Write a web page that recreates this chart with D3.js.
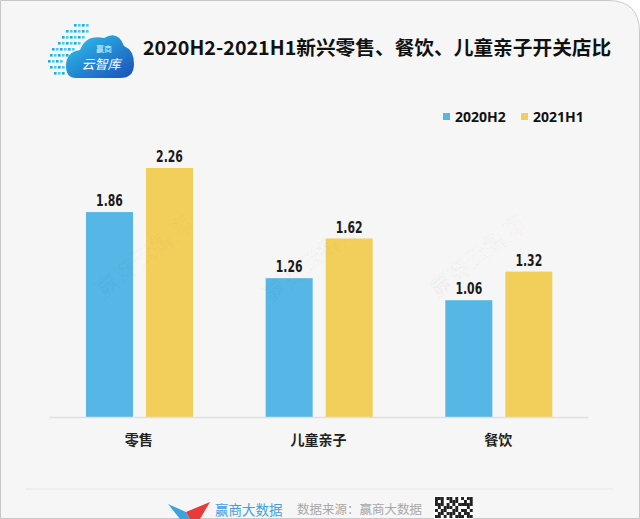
<!DOCTYPE html>
<html>
<head>
<meta charset="utf-8">
<script src="https://cdn.jsdelivr.net/npm/d3@7"></script>
<style>
  html, body { margin: 0; padding: 0; background: #fff; }
  svg { display: block; font-family: "Noto Sans CJK SC", "Noto Sans", sans-serif; }
</style>
</head>
<body>
<div id="chart"></div>
<script>
// data
var categories = ["零售", "儿童亲子", "餐饮"];
var seriesNames = ["2020H2", "2021H1"];
var values2020H2 = [1.86, 1.26, 1.06];
var values2021H1 = [2.26, 1.62, 1.32];
var seriesColors = ["#56b7e6", "#f2cf5b"];
var titleText = "2020H2-2021H1新兴零售、餐饮、儿童亲子开关店比";

var W = 640, H = 519;
var svg = d3.select("#chart").append("svg").attr("width", W).attr("height", H);

// panel background with rounded top-right corner
var r = 32;
svg.append("path")
  .attr("d", "M0.5,518.5 L0.5,0.5 L" + (W - r) + ",0.5 Q" + (W - 0.5) + ",0.5 " + (W - 0.5) + "," + r + " L" + (W - 0.5) + ",518.5 Z")
  .attr("fill", "#f6f6f6")
  .attr("stroke", "#c8c8c8")
  .attr("stroke-width", 1);

// logo (cloud)
var defs = svg.append("defs");
var grad = defs.append("linearGradient").attr("id", "cloudGrad")
  .attr("x1", "0").attr("y1", "0").attr("x2", "1").attr("y2", "1");
grad.append("stop").attr("offset", "0").attr("stop-color", "#2fc6f0");
grad.append("stop").attr("offset", "1").attr("stop-color", "#1a4fb5");

var logo = svg.append("g").attr("class", "logo");
logo.append("path")
  .attr("d", "M66,66 Q66,52 80,50 Q86,34 104,38 Q118,30 124,46 Q134,50 134,64 Q134,78 120,78 L76,78 Q66,78 66,66 Z")
  .attr("fill", "url(#cloudGrad)");
var dotRows = [[74, 24, 4], [66, 30, 6], [62, 36, 6], [58, 42, 6], [52, 48, 6], [50, 54, 5], [48, 60, 4], [50, 66, 4], [54, 72, 3]];
dotRows.forEach(function(row){
  for (var i = 0; i < row[2]; i++) {
    logo.append("rect")
      .attr("x", row[0] + i * 4).attr("y", row[1])
      .attr("width", 2.6).attr("height", 2.6)
      .attr("fill", i % 2 ? "#3fd0f2" : "#27a8e6");
  }
});
logo.append("text").attr("x", 104).attr("y", 52).attr("text-anchor", "middle")
  .attr("font-size", 8).attr("fill", "#dff3ff").text("赢商");
logo.append("text").attr("x", 101).attr("y", 69).attr("text-anchor", "middle")
  .attr("font-size", 13).attr("fill", "#ffffff").attr("font-style", "italic").text("云智库");

// title
svg.append("text")
  .attr("x", 143).attr("y", 55)
  .attr("font-size", 19.7).attr("font-weight", "bold").attr("fill", "#111")
  .text(titleText);

// scales
var baseY = 417, topY = 168;
var x0 = d3.scaleBand().domain(categories).range([49, 588]).padding(0);
var x1 = d3.scaleBand().domain(seriesNames).range([37, 144]).paddingInner(13 / 60).paddingOuter(0);
var y = d3.scaleLinear().domain([0, 2.26]).range([baseY, topY]);

var rows = categories.map(function(c, i){
  return { cat: c, vals: [values2020H2[i], values2021H1[i]] };
});

var groups = svg.selectAll("g.cat").data(rows).enter().append("g")
  .attr("class", "cat")
  .attr("transform", function(d){ return "translate(" + x0(d.cat) + ",0)"; });

groups.selectAll("rect").data(function(d){
    return d.vals.map(function(v, j){ return { s: seriesNames[j], v: v, j: j }; });
  }).enter().append("rect")
  .attr("x", function(d){ return x1(d.s); })
  .attr("y", function(d){ return y(d.v); })
  .attr("width", x1.bandwidth())
  .attr("height", function(d){ return baseY - y(d.v); })
  .attr("fill", function(d){ return seriesColors[d.j]; });

// condensed value labels (squeezed horizontally)
groups.selectAll("text.val").data(function(d){
    return d.vals.map(function(v, j){ return { s: seriesNames[j], v: v }; });
  }).enter().append("text")
  .attr("class", "val")
  .attr("transform", function(d){
    return "translate(" + (x1(d.s) + x1.bandwidth() / 2) + "," + (y(d.v) - 6) + ") scale(0.68,1)";
  })
  .attr("text-anchor", "middle")
  .attr("font-family", "'DejaVu Sans', sans-serif")
  .attr("font-weight", "bold").attr("font-size", 16).attr("fill", "#1a1a1a")
  .text(function(d){ return d3.format(".2f")(d.v); });

// watermarks over the bars
var wm = [[145, 258], [312, 263], [478, 258]];
wm.forEach(function(p){
  svg.append("text")
    .attr("transform", "translate(" + p[0] + "," + p[1] + ") rotate(-38)")
    .attr("text-anchor", "middle").attr("dominant-baseline", "middle")
    .attr("font-size", 23).attr("fill", "none")
    .attr("stroke", "#000").attr("stroke-width", 0.6).attr("stroke-opacity", 0.05)
    .text("赢商云智库");
});

// x axis
var xAxis = svg.append("g").attr("transform", "translate(0," + baseY + ")")
  .call(d3.axisBottom(x0).tickSize(0).tickPadding(18));
xAxis.select(".domain").attr("stroke", "#e0e0e0").attr("stroke-width", 1.5);
xAxis.selectAll("text")
  .attr("font-family", "'Noto Sans CJK SC', sans-serif")
  .attr("font-size", 14).attr("font-weight", "bold").attr("fill", "#222");

// legend
var legend = svg.append("g").attr("transform", "translate(443,108)");
var legendX = [0, 78];
seriesNames.forEach(function(s, i){
  legend.append("rect").attr("x", legendX[i]).attr("y", 5)
    .attr("width", 7).attr("height", 7).attr("fill", seriesColors[i]);
  legend.append("text").attr("x", legendX[i] + 12).attr("y", 13.5)
    .attr("font-family", "'Noto Sans', sans-serif")
    .attr("font-size", 14).attr("font-weight", "bold").attr("fill", "#111")
    .text(s);
});

// footer
svg.append("line").attr("x1", 25).attr("x2", 613).attr("y1", 489).attr("y2", 489)
  .attr("stroke", "#e6e6e6").attr("stroke-width", 1);
var foot = svg.append("g");
foot.append("path").attr("d", "M168,504 L186,512 L190,519 L180,519 Z").attr("fill", "#3aa3e0");
foot.append("path").attr("d", "M210,502 L186,512 L190,519 L200,519 Z").attr("fill", "#e83a3a");
foot.append("text").attr("x", 215).attr("y", 515)
  .attr("font-size", 13.5).attr("fill", "#3f9fe0").text("赢商大数据");
foot.append("text").attr("x", 297).attr("y", 514)
  .attr("font-size", 12.5).attr("fill", "#a8a8a8").text("数据来源：赢商大数据");
// qr placeholder
var qr = foot.append("g").attr("transform", "translate(434,496)");
qr.append("rect").attr("width", 39).attr("height", 23).attr("fill", "#fff");
var qrBits = [
  "1110110101011",
  "1010011100101",
  "1110101011111",
  "0101110100010",
  "1011001101101",
  "0110111010110",
  "1101010111011"
];
qrBits.forEach(function(row, ri){
  row.split("").forEach(function(b, ci){
    if (b === "1") qr.append("rect").attr("x", 1 + ci * 2.9).attr("y", 1 + ri * 3)
      .attr("width", 2.9).attr("height", 3).attr("fill", "#222");
  });
});
</script>
</body>
</html>
